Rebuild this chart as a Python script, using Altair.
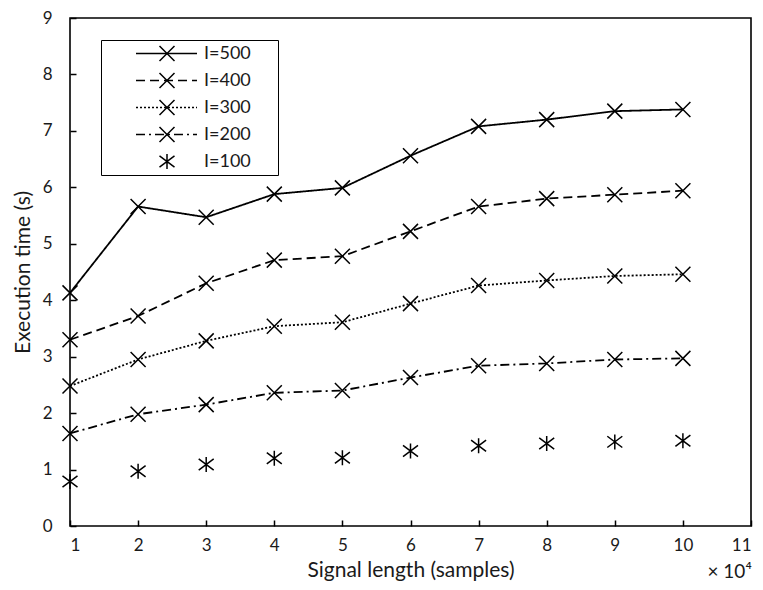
import altair as alt
import pandas as pd

x_vals = [1, 2, 3, 4, 5, 6, 7, 8, 9, 10]
series_names = ["I=500", "I=400", "I=300", "I=200", "I=100"]
i500 = [4.13, 5.66, 5.47, 5.88, 5.99, 6.56, 7.08, 7.20, 7.35, 7.38]
i400 = [3.30, 3.72, 4.30, 4.71, 4.78, 5.22, 5.66, 5.80, 5.87, 5.94]
i300 = [2.48, 2.95, 3.28, 3.54, 3.61, 3.94, 4.26, 4.35, 4.43, 4.46]
i200 = [1.64, 1.98, 2.15, 2.36, 2.40, 2.63, 2.84, 2.88, 2.95, 2.97]
i100 = [0.79, 0.97, 1.09, 1.20, 1.21, 1.33, 1.42, 1.46, 1.49, 1.51]
x_ticks = list(range(1, 12))
y_ticks = list(range(0, 10))

marker_keys = [n + " " for n in series_names]

rows = []
for name, key, vals in zip(series_names, marker_keys, [i500, i400, i300, i200, i100]):
    for x, y in zip(x_vals, vals):
        rows.append({"x": x, "y": y, "series": name, "marker": key})
df = pd.DataFrame(rows)

FONT = "Lato"
TXT = "#1a1a1a"
W, H = 681, 508

dash_range = [[1, 0], [9, 5], [2, 2], [9, 4, 2, 4], [0, 1000]]
cross = "M-1,-1L1,1M-1,1L1,-1"
aster = "M-1,-0.75L1,0.75M-1,0.75L1,-0.75M0,-1L0,1"
shape_range = [cross, cross, cross, cross, aster]

xscale = alt.Scale(domain=[1, 11], nice=False, zero=False)
yscale = alt.Scale(domain=[0, 9], nice=False, zero=True)

lines = alt.Chart(df).mark_line(color="black", strokeWidth=1.8).encode(
    x=alt.X("x:Q", scale=xscale,
            axis=alt.Axis(values=x_ticks, format="d", tickSize=0, domain=False, grid=False,
                          labelPadding=11, title="Signal length (samples)", titlePadding=6)),
    y=alt.Y("y:Q", scale=yscale,
            axis=alt.Axis(values=y_ticks, format="d", tickSize=0, domain=False, grid=False,
                          labelPadding=18, title="Execution time (s)", titlePadding=9)),
    strokeDash=alt.StrokeDash(
        "series:N",
        scale=alt.Scale(domain=series_names, range=dash_range),
        legend=alt.Legend(
            orient="none", legendX=31, legendY=22, padding=0,
            title="MM", titleOrient="right", titleColor="transparent", titleFontSize=10, titlePadding=10,
            strokeColor="black", symbolType="stroke", symbolSize=3721,
            symbolStrokeWidth=1.6, symbolStrokeColor="black", symbolOffset=34,
            labelOffset=6, clipHeight=27, rowPadding=0,
            labelFont=FONT, labelFontSize=18, labelColor=TXT,
        ),
    ),
)

points = alt.Chart(df).mark_point(filled=False, color="black", strokeWidth=1.5, size=225, opacity=1).encode(
    x=alt.X("x:Q", scale=xscale,
            axis=alt.Axis(orient="top", offset=-H, labels=False, tickSize=6, domain=False,
                          grid=False, title=None, values=x_ticks)),
    y=alt.Y("y:Q", scale=yscale,
            axis=alt.Axis(orient="right", offset=-W, labels=False, tickSize=6, domain=False,
                          grid=False, title=None, values=y_ticks)),
    shape=alt.Shape(
        "marker:N",
        scale=alt.Scale(domain=marker_keys, range=shape_range),
        legend=alt.Legend(
            orient="none", legendX=31, legendY=22, padding=0, title=None,
            symbolSize=225, symbolStrokeWidth=1.5, symbolStrokeColor="black",
            symbolFillColor="transparent", symbolOffset=57, clipHeight=27, rowPadding=0,
            labelExpr="''", labelFontSize=18, labelFont=FONT,
        ),
    ),
)

chart = alt.layer(lines, points).resolve_axis(x="independent", y="independent").properties(
    width=W, height=H,
    autosize=alt.AutoSizeParams(type="none"),
    padding={"left": 62, "top": 10, "right": 4, "bottom": 56},
    title=alt.TitleParams("× 10⁴", orient="bottom", anchor="end", offset=-17,
                          font=FONT, fontSize=19, fontWeight="normal", color=TXT),
).configure_view(stroke="black", strokeWidth=1.6).configure_axis(
    labelFont=FONT, labelFontSize=17, labelColor=TXT, tickColor="black", tickWidth=1.5,
    titleFont=FONT, titleFontSize=21, titleFontWeight="normal", titleColor=TXT,
)

chart.save("out.html", embed_options={"renderer": "svg", "actions": False})
